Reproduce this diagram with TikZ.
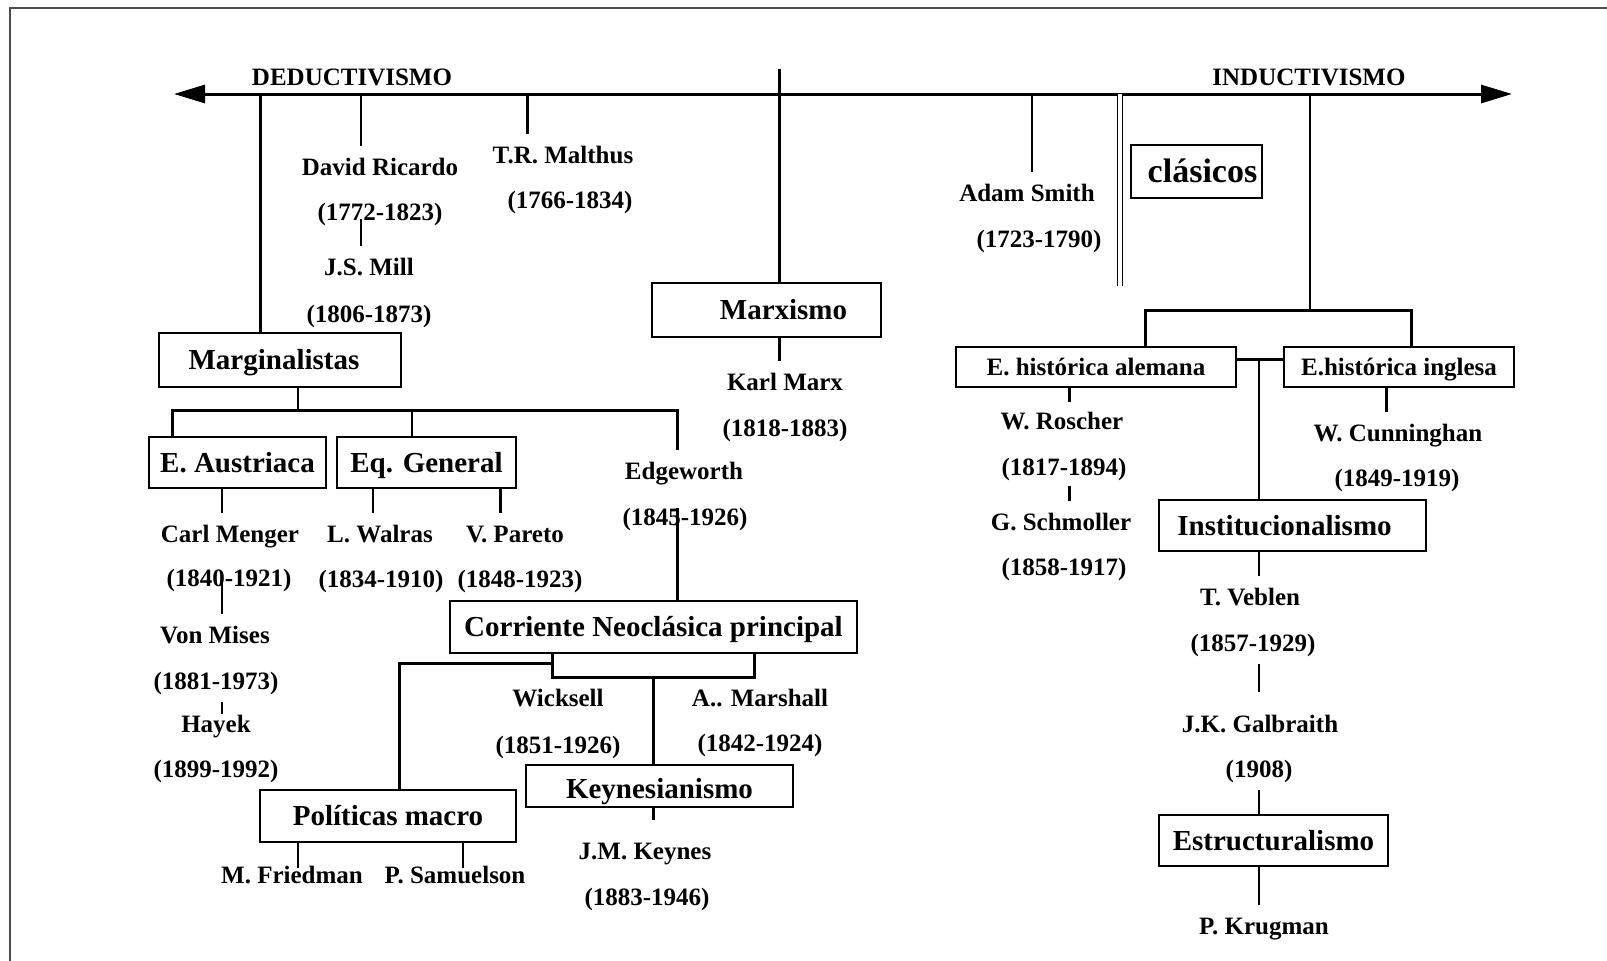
\documentclass[tikz,border=0pt]{standalone}
\usepackage{fontspec}
\setmainfont{Liberation Serif}
\usetikzlibrary{arrows.meta}

\tikzset{
  caja/.style={draw, line width=2.5pt, inner sep=0pt, text height=19pt, text depth=0pt,
    font=\fontsize{29}{34}\selectfont\bfseries},
  cajachica/.style={caja, line width=2pt, text height=17pt, font=\fontsize{25}{30}\selectfont\bfseries},
  autor/.style={inner xsep=2pt, inner ysep=12pt, text height=17pt, text depth=0pt,
    font=\fontsize{25}{30}\selectfont\bfseries},
  fino/.style={line width=1.5pt},
  grueso/.style={line width=3pt},
  punta/.tip={Triangle[length=31pt,width=18pt]}
}

\begin{document}
\begin{tikzpicture}[x=1pt,y=-1pt]
  \useasboundingbox (0,0) rectangle (1607,961);
  % Marco
  \draw[black!70, line width=2pt] (1607,8) -- (10,8) -- (10,961);

  % Eje
  \coordinate (izq) at (174,94);
  \coordinate (der) at (1512,94);
  \draw[grueso, punta-punta] (izq) -- (der);
  \node[autor] (deduc) at (352,77) {DEDUCTIVISMO};
  \node[autor] (induc) at (1309,77) {INDUCTIVISMO};

  % Puntos sobre el eje
  \coordinate (cMarg) at (260,94);
  \coordinate (cRic) at (361,94);
  \coordinate (cMal) at (527,94);
  \coordinate (cMarx) at (779,69);
  \coordinate (cSmith) at (1032,94);
  \coordinate (cDoble) at (1120,94);
  \coordinate (cInd) at (1310,94);

  % Clasicos
  \node[autor] (ricardo) at (380,167) {David Ricardo};
  \node[autor] (ricardoa) at (380,212) {(1772-1823)};
  \node[autor] (mill) at (369,267) {J.S. Mill};
  \node[autor] (milla) at (369,314) {(1806-1873)};
  \draw[fino] (cRic) -- (cRic |- ricardo.north);
  \draw[fino] (cRic |- mill.north) -- +(0,-27);

  \node[autor] (malthus) at (563,155) {T.R. Malthus};
  \node[autor] (malthusa) at (570,200) {(1766-1834)};
  \draw[grueso] (cMal) -- (cMal |- malthus.north);

  \node[autor] (smith) at (1027,193) {Adam Smith};
  \node[autor] (smitha) at (1039,239) {(1723-1790)};
  \draw[fino] (cSmith) -- (cSmith |- smith.north);

  \coordinate (dobleFin) at (1120,286);
  \draw[line width=1.5pt, double distance=3.5pt] (cDoble) -- (dobleFin);
  \node[caja, text height=22pt, minimum width=131pt, minimum height=53pt,
    font=\fontsize{34}{40}\selectfont\bfseries] (clasicos) at (1196.5,171.5) {\hspace*{12pt}clásicos};

  % Marxismo
  \node[caja, minimum width=229pt, minimum height=54pt] (marxismo) at (766.5,310) {\hspace*{34pt}Marxismo};
  \draw[grueso] (cMarx) -- (cMarx |- marxismo.north);
  \node[autor] (marx) at (785,382) {Karl Marx};
  \node[autor] (marxa) at (785,428) {(1818-1883)};
  \draw[grueso] (cMarx |- marxismo.south) -- (cMarx |- marx.north);

  % Marginalistas
  \node[caja, minimum width=242pt, minimum height=54pt] (marginalistas) at (280,360) {Marginalistas\hspace*{12pt}};
  \node[caja, minimum width=177pt, minimum height=51pt] (austriaca) at (237.5,462.5) {E. Austriaca};
  \node[caja, minimum width=179pt, minimum height=51pt] (general) at (426.5,462.5) {Eq. General};
  \node[autor] (edgeworth) at (684,471) {Edgeworth};
  \node[autor] (edgewortha) at (685,517) {(1845-1926)};
  \draw[grueso] (cMarg) -- (cMarg |- marginalistas.north);
  \coordinate (bMarg) at (298,410);
  \coordinate (bIzq) at (172,410);
  \coordinate (bEq) at (412,410);
  \coordinate (bDer) at (677,410);
  \draw[fino] (bMarg |- marginalistas.south) -- (bMarg);
  \draw[grueso] (bIzq |- austriaca.north) -- (bIzq) -- (bDer) -- (bDer |- edgeworth.north);
  \draw[fino] (bEq) -- (bEq |- general.north);

  % Escuela austriaca
  \coordinate (cMen) at (222,0);
  \node[autor] (menger) at (230,534) {Carl Menger};
  \node[autor] (mengera) at (229,578) {(1840-1921)};
  \node[autor] (mises) at (215,635) {Von Mises};
  \node[autor] (misesa) at (216,681) {(1881-1973)};
  \node[autor] (hayek) at (216,724) {Hayek};
  \node[autor] (hayeka) at (216,769) {(1899-1992)};
  \draw[fino] (cMen |- austriaca.south) -- (cMen |- menger.north);
  \draw[fino] (cMen |- mises.north) -- +(0,-33);
  \draw[fino] (cMen |- misesa.south) -- +(0,12);

  % Equilibrio general
  \coordinate (cWal) at (373,0);
  \coordinate (cPar) at (500,0);
  \node[autor] (walras) at (380,534) {L. Walras};
  \node[autor] (walrasa) at (381,579) {(1834-1910)};
  \node[autor] (pareto) at (515,534) {V. Pareto};
  \node[autor] (paretoa) at (520,579) {(1848-1923)};
  \draw[fino] (cWal |- general.south) -- (cWal |- walras.north);
  \draw[grueso] (cPar |- general.south) -- (cPar |- pareto.north);

  % Corriente neoclasica
  \node[caja, minimum width=407pt, minimum height=52pt] (corriente) at (653.5,627) {Corriente Neoclásica principal};
  \draw[grueso] (bDer |- corriente.north) -- +(0,-92);
  \coordinate (kIzq) at (552,677);
  \coordinate (kMed) at (653,677);
  \coordinate (kDer) at (754,677);
  \coordinate (pol) at (399,663);
  \node[autor] (wicksell) at (558,698) {Wicksell};
  \node[autor] (wicksella) at (558,745) {(1851-1926)};
  \node[autor] (marshall) at (760,698) {A.. Marshall};
  \node[autor] (marshalla) at (760,743) {(1842-1924)};
  \node[caja, minimum width=256pt, minimum height=52pt] (politicas) at (388,816) {Políticas macro};
  \node[caja, text height=25pt, minimum width=267pt, minimum height=42pt] (keynesianismo) at (659.5,786) {Keynesianismo};
  \draw[grueso] (kIzq |- corriente.south) -- (kIzq) -- (kDer) -- (kDer |- corriente.south);
  \draw[grueso] (kIzq |- pol) -- (pol) -- (pol |- politicas.north);
  \draw[grueso] (kMed) -- (kMed |- keynesianismo.north);

  % Politicas macro y Keynes
  \coordinate (cFri) at (298,0);
  \coordinate (cSam) at (463,0);
  \node[autor] (friedman) at (292,875) {M. Friedman};
  \node[autor] (samuelson) at (455,875) {P. Samuelson};
  \draw[fino] (cFri |- politicas.south) -- +(0,25);
  \draw[fino] (cSam |- politicas.south) -- +(0,25);
  \node[autor] (keynes) at (645,851) {J.M. Keynes};
  \node[autor] (keynesa) at (647,897) {(1883-1946)};
  \draw[grueso] (kMed |- keynesianismo.south) -- +(0,12);

  % Escuelas historicas
  \coordinate (bAle) at (1145,310);
  \coordinate (bIng) at (1411,310);
  \coordinate (union) at (1259,359);
  \node[cajachica, minimum width=280pt, minimum height=40pt] (alemana) at (1096,367) {E. histórica alemana};
  \node[cajachica, minimum width=230pt, minimum height=40pt] (inglesa) at (1399,367) {E.histórica inglesa};
  \draw[fino] (cInd) -- (cInd |- bAle);
  \draw[grueso] (bAle |- alemana.north) -- (bAle) -- (bIng) -- (bIng |- inglesa.north);
  \draw[grueso] (alemana.east |- union) -- (inglesa.west |- union);

  \coordinate (cRos) at (1069,0);
  \node[autor] (roscher) at (1062,421) {W. Roscher};
  \node[autor] (roschera) at (1064,467) {(1817-1894)};
  \node[autor] (schmoller) at (1061,522) {G. Schmoller};
  \node[autor] (schmollera) at (1064,567) {(1858-1917)};
  \draw[grueso] (cRos |- alemana.south) -- +(0,14);
  \draw[grueso] (cRos |- schmoller.north) -- +(0,-15);

  \coordinate (cCun) at (1386,0);
  \node[autor] (cunninghan) at (1398,433) {W. Cunninghan};
  \node[autor] (cunninghana) at (1397,478) {(1849-1919)};
  \draw[grueso] (cCun |- inglesa.south) -- (cCun |- cunninghan.north);

  % Institucionalismo y estructuralismo
  \node[caja, minimum width=267pt, minimum height=51pt] (institucional) at (1292.5,525.5) {Institucionalismo\hspace*{16pt}};
  \node[autor] (veblen) at (1250,597) {T. Veblen};
  \node[autor] (veblena) at (1253,643) {(1857-1929)};
  \node[autor] (galbraith) at (1260,724) {J.K. Galbraith};
  \node[autor] (galbraitha) at (1259,769) {(1908)};
  \node[caja, minimum width=229pt, minimum height=51pt] (estructural) at (1273.5,840.5) {Estructuralismo};
  \node[autor] (krugman) at (1264,926) {P. Krugman};
  \draw[fino] (union) -- (union |- institucional.north);
  \draw[fino] (union |- institucional.south) -- (union |- veblen.north);
  \draw[fino] (union |- veblena.south) -- +(0,28);
  \draw[fino] (union |- galbraitha.south) -- (union |- estructural.north);
  \draw[fino] (union |- estructural.south) -- (union |- krugman.north);
\end{tikzpicture}
\end{document}
